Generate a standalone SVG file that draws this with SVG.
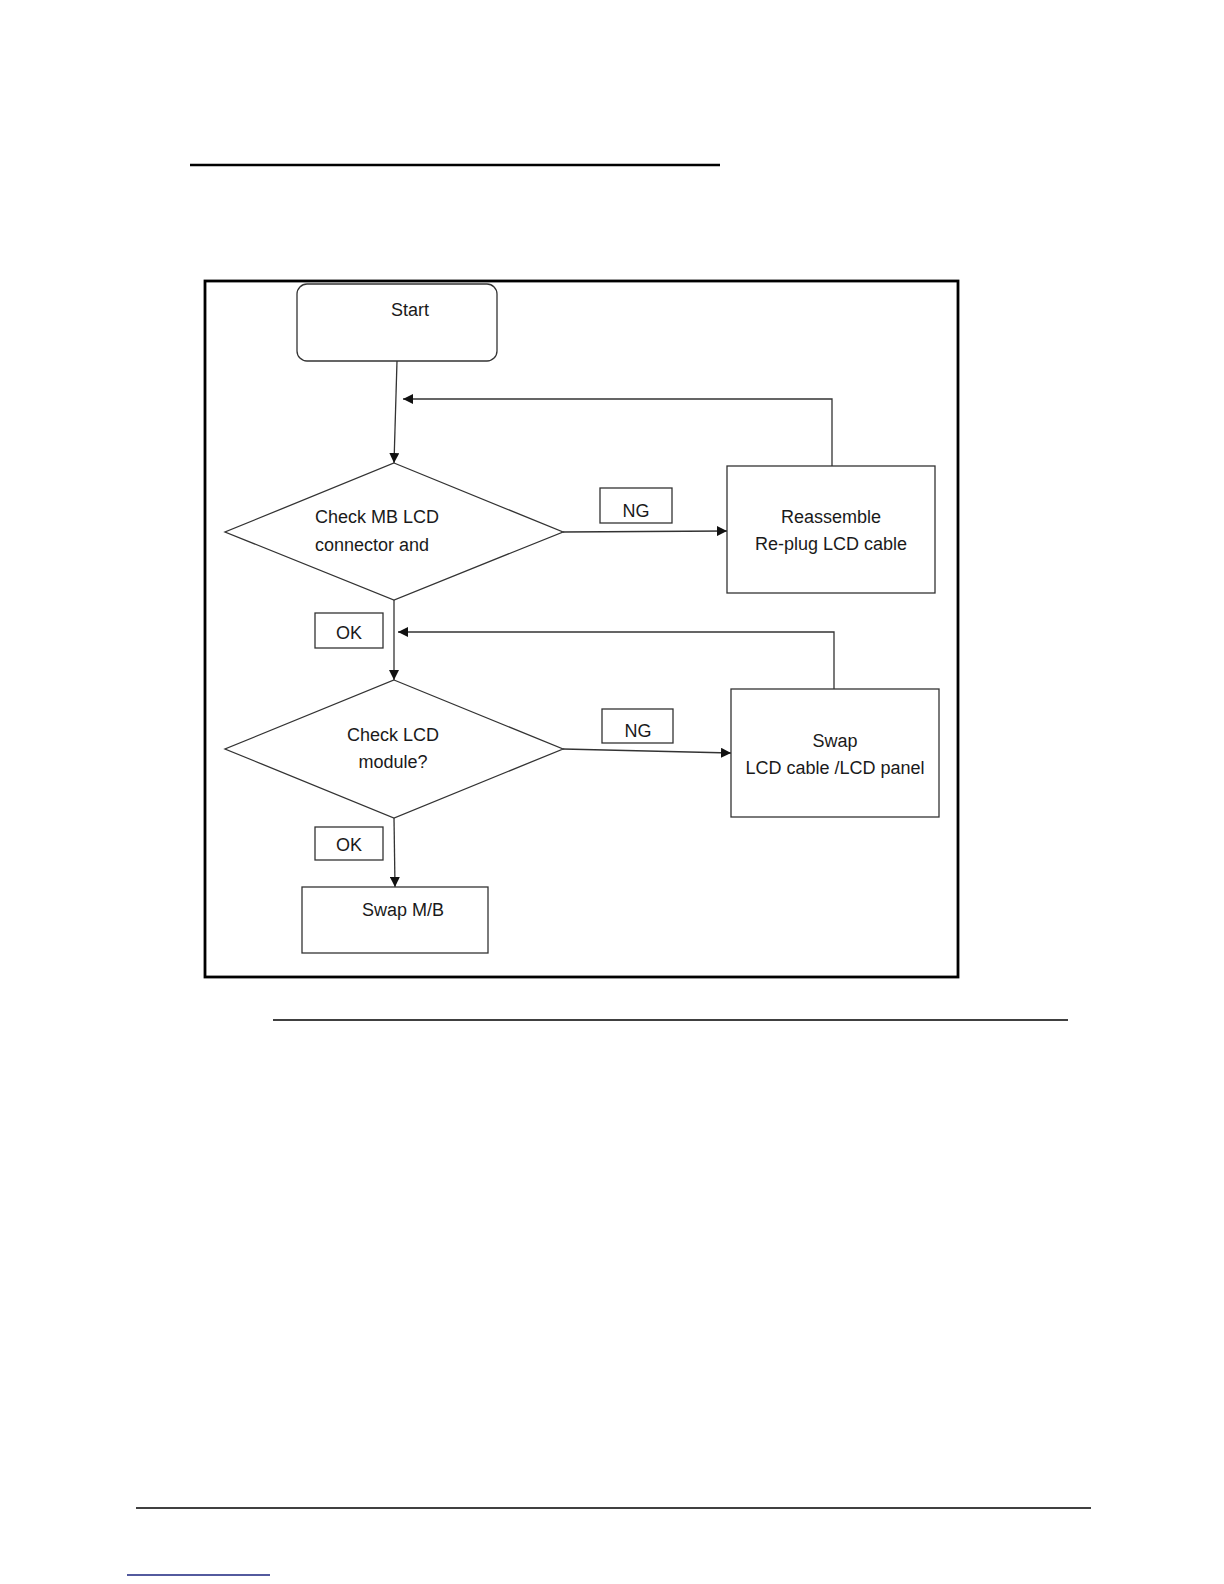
<svg xmlns="http://www.w3.org/2000/svg" width="1224" height="1584" viewBox="0 0 1224 1584">
<style>
.t{font-family:"Liberation Sans",Arial,sans-serif;font-size:18px;fill:#1a1a1a}
.m{text-anchor:middle}
.s{fill:#fff;stroke:#333;stroke-width:1.3}
.c{fill:none;stroke:#333;stroke-width:1.3}
</style>
<defs>
<marker id="ah" viewBox="0 0 10 10" refX="10" refY="5" markerWidth="10" markerHeight="10" markerUnits="userSpaceOnUse" orient="auto">
<path d="M0,0 L10,5 L0,10 z" fill="#111"/>
</marker>
</defs>
<rect width="1224" height="1584" fill="#fff"/>
<line x1="190" y1="165" x2="720" y2="165" stroke="#000" stroke-width="2.5"/>
<rect x="205" y="281" width="753" height="696" fill="none" stroke="#000" stroke-width="2.8"/>
<line x1="273" y1="1020" x2="1068" y2="1020" stroke="#000" stroke-width="1.6"/>
<line x1="136" y1="1508" x2="1091" y2="1508" stroke="#000" stroke-width="1.5"/>
<line x1="127" y1="1575" x2="270" y2="1575" stroke="#1a237e" stroke-width="1.6"/>

<g id="connectors">
<line class="c" x1="397" y1="361" x2="394" y2="463" marker-end="url(#ah)"/>
<polyline class="c" points="832,466 832,399 403,399" marker-end="url(#ah)"/>
<line class="c" x1="563" y1="532" x2="727" y2="531" marker-end="url(#ah)"/>
<line class="c" x1="394" y1="600" x2="394" y2="680" marker-end="url(#ah)"/>
<polyline class="c" points="834,689 834,632 398,632" marker-end="url(#ah)"/>
<line class="c" x1="563" y1="749" x2="731" y2="753" marker-end="url(#ah)"/>
<line class="c" x1="394" y1="818" x2="395" y2="887" marker-end="url(#ah)"/>
</g>

<g id="start">
<rect class="s" x="297" y="284" width="200" height="77" rx="10"/>
<text class="t m" x="410" y="316">Start</text>
</g>
<g id="check-mb">
<polygon class="s" points="394,463 563,532 394,600 225,532"/>
<text class="t" x="315" y="523">Check MB LCD</text>
<text class="t" x="315" y="551">connector and</text>
</g>
<g id="ng1">
<rect class="s" x="600" y="488" width="72" height="35"/>
<text class="t m" x="636" y="517">NG</text>
</g>
<g id="reassemble">
<rect class="s" x="727" y="466" width="208" height="127"/>
<text class="t m" x="831" y="523">Reassemble</text>
<text class="t m" x="831" y="550">Re-plug LCD cable</text>
</g>
<g id="ok1">
<rect class="s" x="315" y="613" width="68" height="35"/>
<text class="t m" x="349" y="639">OK</text>
</g>
<g id="check-lcd">
<polygon class="s" points="394,680 563,749 394,818 225,749"/>
<text class="t m" x="393" y="741">Check LCD</text>
<text class="t m" x="393" y="768">module?</text>
</g>
<g id="ng2">
<rect class="s" x="602" y="709" width="71" height="34"/>
<text class="t m" x="638" y="737">NG</text>
</g>
<g id="swap-lcd">
<rect class="s" x="731" y="689" width="208" height="128"/>
<text class="t m" x="835" y="747">Swap</text>
<text class="t m" x="835" y="774">LCD cable /LCD panel</text>
</g>
<g id="ok2">
<rect class="s" x="315" y="827" width="68" height="33"/>
<text class="t m" x="349" y="851">OK</text>
</g>
<g id="swap-mb">
<rect class="s" x="302" y="887" width="186" height="66"/>
<text class="t m" x="403" y="916">Swap M/B</text>
</g>
</svg>
